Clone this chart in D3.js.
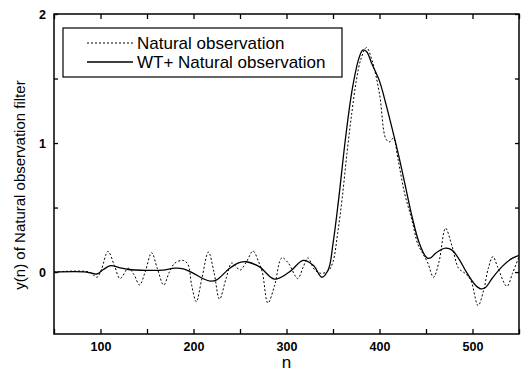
<!DOCTYPE html>
<html>
<head>
<meta charset="utf-8">
<script src="https://cdn.jsdelivr.net/npm/d3@7"></script>
<style>
    body { margin: 0; background: #fff; }
    .axis text { font-family: "Liberation Sans", Arial, sans-serif; font-size: 12.5px; font-weight: bold; fill: #000; }
    .axis path, .axis line { stroke: #000; stroke-width: 1.3px; }
    .label { font-family: "Liberation Sans", Arial, sans-serif; font-size: 15px; fill: #000; }
    .legend text { font-family: "Liberation Sans", Arial, sans-serif; font-size: 17px; fill: #000; }
</style>
</head>
<body>
<div id="chart"></div>
<script>
// WT + natural observation (solid)
const wtN = [50, 85, 96, 103, 111, 120, 130, 150, 167, 180, 189, 200, 210, 218, 225, 239, 250, 257, 271, 287,
    303, 318, 329, 338, 345, 350, 356, 364, 371, 378, 382, 386, 392, 400, 407, 414, 421, 428, 435, 443,
    451, 455, 461, 471, 478, 486, 493, 503, 509, 514, 521, 532, 543, 550];
const wtY = [0, 0, -0.015, 0.02, 0.05, 0.035, 0.02, 0.013, 0.015, 0.03, 0.025, -0.01, -0.05, -0.07, -0.06, 0.03, 0.075, 0.08, 0.04, -0.055,
    0.0, 0.09, 0.05, -0.04, 0.02, 0.22, 0.56, 1.07, 1.43, 1.66, 1.72, 1.71, 1.61, 1.48, 1.30, 1.10, 0.89, 0.66, 0.43, 0.22,
    0.11, 0.11, 0.15, 0.185, 0.17, 0.095, 0.005, -0.10, -0.13, -0.12, -0.05, 0.044, 0.108, 0.13];

// natural observation (dotted)
const natN = [50, 88, 96, 101, 108, 115, 121, 130, 136, 142, 148, 155, 161, 168, 174, 180, 189, 194, 198, 203,
    209, 216, 222, 228, 235, 241, 245, 250, 257, 264, 270, 274, 280, 287, 295, 302, 312, 318, 323, 330,
    337, 345, 350, 355, 360, 365, 370, 375, 380, 386, 392, 400, 407, 411, 415, 420, 427, 435, 441, 446,
    452, 458, 464, 471, 478, 485, 492, 498, 506, 512, 517, 522, 527, 537, 543, 550];
const natY = [0, 0, -0.04, 0.02, 0.16, 0.05, -0.05, 0.03, -0.02, -0.1, 0.0, 0.15, 0.03, -0.1, 0.0, 0.07, 0.09, 0.06, -0.1, -0.23,
    -0.05, 0.155, 0.0, -0.21, -0.05, 0.07, 0.05, 0.015, 0.08, 0.163, 0.08, 0.0, -0.24, -0.11, 0.11, 0.07, -0.05, 0.04, 0.11, 0.02,
    -0.01, 0.01, 0.08, 0.3, 0.58, 0.92, 1.22, 1.48, 1.65, 1.74, 1.64, 1.38, 1.03, 1.01, 1.04, 0.87, 0.61, 0.40, 0.22, 0.15,
    0.07, -0.04, 0.08, 0.34, 0.2, 0.03, -0.01, -0.06, -0.26, -0.14, 0.03, 0.12, 0.04, -0.11, -0.01, 0.12];

const xTicks = [50, 100, 150, 200, 250, 300, 350, 400, 450, 500, 550];
const yTicks = [0, 0.5, 1, 1.5, 2];
const legendNames = ["Natural observation", "WT+ Natural observation"];

const width = 521, height = 378;
const m = { left: 54, right: 519, top: 14, bottom: 334 };

const svg = d3.select("#chart").append("svg")
    .attr("width", width)
    .attr("height", height);

const x = d3.scaleLinear().domain([50, 550]).range([m.left, m.right]);
const y = d3.scaleLinear().domain([-0.48, 2]).range([m.bottom, m.top]);

const fmtX = d => d % 100 === 0 ? d : "";
const fmtY = d => Number.isInteger(d) ? d : "";

svg.append("g").attr("class", "axis")
    .attr("transform", `translate(0,${m.bottom})`)
    .call(d3.axisBottom(x).tickValues(xTicks).tickSizeInner(-5).tickSizeOuter(0).tickPadding(8).tickFormat(fmtX));
svg.append("g").attr("class", "axis")
    .attr("transform", `translate(0,${m.top})`)
    .call(d3.axisTop(x).tickValues(xTicks).tickSizeInner(-5).tickSizeOuter(0).tickFormat(""));
svg.append("g").attr("class", "axis")
    .attr("transform", `translate(${m.left},0)`)
    .call(d3.axisLeft(y).tickValues(yTicks).tickSizeInner(-4).tickSizeOuter(0).tickPadding(8).tickFormat(fmtY));
svg.append("g").attr("class", "axis")
    .attr("transform", `translate(${m.right},0)`)
    .call(d3.axisRight(y).tickValues(yTicks).tickSizeInner(-4).tickSizeOuter(0).tickFormat(""));

svg.selectAll(".axis .domain").remove();
svg.append("rect")
    .attr("x", m.left).attr("y", m.top)
    .attr("width", m.right - m.left).attr("height", m.bottom - m.top)
    .attr("fill", "none").attr("stroke", "#000").attr("stroke-width", 1.5);

const line = d3.line()
    .x(d => x(d[0]))
    .y(d => y(d[1]))
    .curve(d3.curveCatmullRom.alpha(0.5));

svg.append("path")
    .datum(natN.map((n, i) => [n, natY[i]]))
    .attr("d", line)
    .attr("fill", "none")
    .attr("stroke", "#000")
    .attr("stroke-width", 1)
    .attr("stroke-dasharray", "2,2");

svg.append("path")
    .datum(wtN.map((n, i) => [n, wtY[i]]))
    .attr("d", line)
    .attr("fill", "none")
    .attr("stroke", "#000")
    .attr("stroke-width", 1.3);

// legend
const legend = svg.append("g").attr("class", "legend");
legend.append("rect")
    .attr("x", 63).attr("y", 28)
    .attr("width", 279).attr("height", 49)
    .attr("fill", "#fff").attr("stroke", "#000").attr("stroke-width", 1.2);
legendNames.forEach((name, i) => {
    const ly = 43 + i * 19;
    legend.append("line")
        .attr("x1", 87).attr("x2", 133)
        .attr("y1", ly).attr("y2", ly)
        .attr("stroke", "#000")
        .attr("stroke-width", i === 0 ? 1 : 1.3)
        .attr("stroke-dasharray", i === 0 ? "2,2" : null);
    legend.append("text")
        .attr("x", 137).attr("y", ly)
        .attr("dy", "0.35em")
        .text(name);
});

svg.append("text").attr("class", "label")
    .attr("x", (m.left + m.right) / 2).attr("y", 368)
    .attr("text-anchor", "middle")
    .style("font-size", "17px")
    .text("n");

svg.append("text").attr("class", "label")
    .attr("transform", `translate(25,${(m.top + m.bottom) / 2 + 11}) rotate(-90)`)
    .attr("text-anchor", "middle")
    .text("y(n) of Natural observation filter");
</script>
</body>
</html>
